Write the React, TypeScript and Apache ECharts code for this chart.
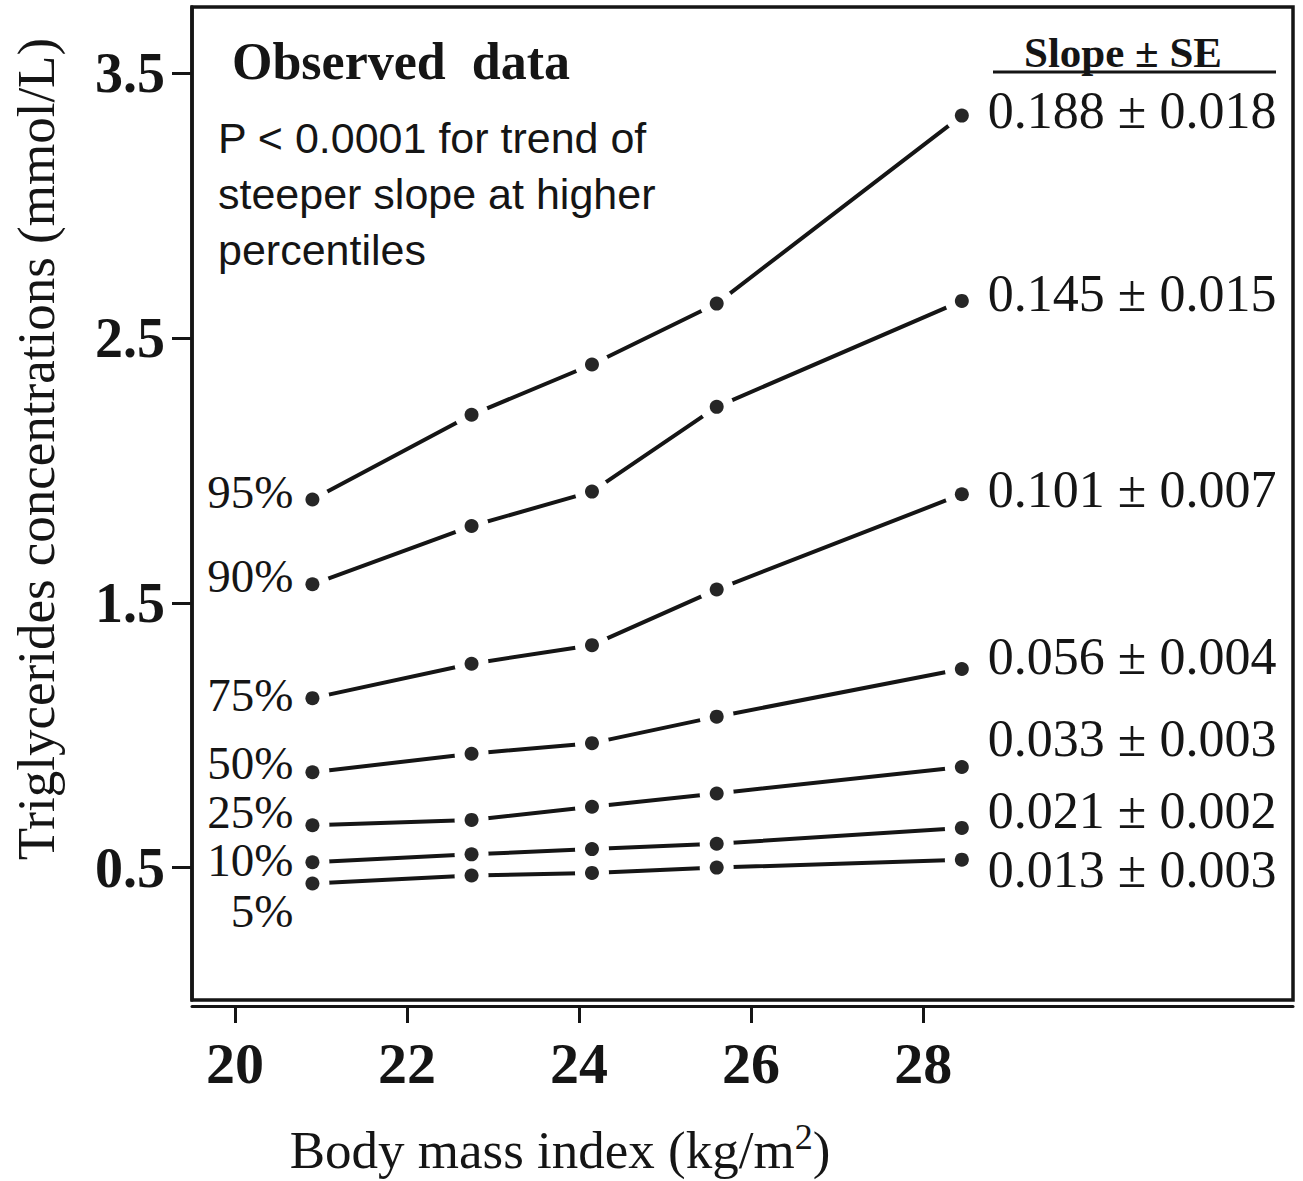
import React, { useEffect, useRef } from "react";
import * as echarts from "echarts";

// ---- data ----
const bmi = [20.9, 22.75, 24.15, 25.6, 28.45];
const percentiles = ["95%", "90%", "75%", "50%", "25%", "10%", "5%"];
const p95 = [1.89, 2.21, 2.4, 2.63, 3.34];
const p90 = [1.57, 1.79, 1.92, 2.24, 2.64];
const p75 = [1.14, 1.27, 1.34, 1.55, 1.91];
const p50 = [0.86, 0.93, 0.97, 1.07, 1.25];
const p25 = [0.66, 0.68, 0.73, 0.78, 0.88];
const p10 = [0.52, 0.55, 0.57, 0.59, 0.65];
const p5 = [0.44, 0.47, 0.48, 0.5, 0.53];
const slopes = [
  "0.188 ± 0.018",
  "0.145 ± 0.015",
  "0.101 ± 0.007",
  "0.056 ± 0.004",
  "0.033 ± 0.003",
  "0.021 ± 0.002",
  "0.013 ± 0.003",
];
const xTicks = [20, 22, 24, 26, 28];
const yTicks = [0.5, 1.5, 2.5, 3.5];

const SERIF = "'Liberation Serif', 'Times New Roman', serif";
const SANS = "'Liberation Sans', Arial, sans-serif";
const INK = "#151515";
const DOT = "#262626";

const pctOffsets = [-8, -8, -3, -9, -13, -2, 28];
const slopeOffsets = [-5, -7, -5, -13, -28, -17, 10];

function buildOption() {
  const all = [p95, p90, p75, p50, p25, p10, p5];
  const last = bmi.length - 1;

  const lineSeries = all.map((vals, i) => ({
    type: "line",
    name: percentiles[i],
    data: bmi.map((x, j) => [x, vals[j]]),
    symbol: "none",
    lineStyle: { color: INK, width: 4 },
    z: 2,
    silent: true,
  }));

  const maskData: number[][] = [];
  all.forEach((vals) => bmi.forEach((x, j) => maskData.push([x, vals[j]])));
  const maskSeries = {
    type: "scatter",
    data: maskData,
    symbolSize: 34,
    itemStyle: { color: "#ffffff", opacity: 1 },
    z: 3,
    silent: true,
  };

  const labelBase = {
    fontFamily: SERIF,
    color: INK,
    opacity: 1,
    lineHeight: 40,
  };

  const dotSeries = all.map((vals, i) => ({
    type: "scatter",
    name: percentiles[i] + " dots",
    symbolSize: 14,
    itemStyle: { color: DOT, opacity: 1 },
    z: 4,
    silent: true,
    label: { show: false, color: INK },
    data: bmi.map((x, j) => {
      const item: any = { value: [x, vals[j]] };
      if (j === 0) {
        item.label = {
          show: true,
          position: "left",
          distance: 12,
          offset: [0, pctOffsets[i]],
          formatter: percentiles[i],
          fontSize: 47,
          ...labelBase,
        };
      } else if (j === last) {
        item.label = {
          show: true,
          position: "right",
          distance: 19,
          offset: [0, slopeOffsets[i]],
          formatter: slopes[i],
          fontSize: 52,
          ...labelBase,
        };
      }
      return item;
    }),
  }));

  return {
    animation: false,
    backgroundColor: "#ffffff",
    grid: {
      left: 192,
      right: 10,
      top: 7,
      bottom: 181,
      show: true,
      borderColor: INK,
      borderWidth: 3.5,
      backgroundColor: "transparent",
    },
    xAxis: {
      type: "value",
      min: 19.5,
      max: 32.3,
      offset: 6,
      axisLine: { show: true, onZero: false, lineStyle: { color: INK, width: 3 } },
      axisTick: { show: true, length: 17, customValues: xTicks, lineStyle: { color: INK, width: 3 } },
      axisLabel: {
        customValues: xTicks,
        fontFamily: SERIF,
        fontWeight: "bold",
        fontSize: 58,
        color: INK,
        margin: 28,
      },
      splitLine: { show: false },
    },
    yAxis: {
      type: "value",
      min: 0,
      max: 3.75,
      axisLine: { show: true, lineStyle: { color: INK, width: 3.5 } },
      axisTick: { show: true, length: 20, customValues: yTicks, lineStyle: { color: INK, width: 3 } },
      axisLabel: {
        customValues: yTicks,
        formatter: (v: number) => v.toFixed(1),
        fontFamily: SERIF,
        fontWeight: "bold",
        fontSize: 56,
        color: INK,
        margin: 27,
      },
      splitLine: { show: false },
    },
    graphic: [
      {
        type: "text",
        x: 232,
        y: 61,
        z: 10,
        style: {
          text: "Observed  data",
          fontFamily: SERIF,
          fontWeight: "bold",
          fontSize: 52,
          fill: INK,
          align: "left",
          verticalAlign: "middle",
          textAlign: "left",
          textVerticalAlign: "middle",
        },
      },
      ...["P < 0.0001 for trend of", "steeper slope at higher", "percentiles"].map((t, k) => ({
        type: "text",
        x: 218,
        y: 138 + k * 56,
        z: 10,
        style: {
          text: t,
          fontFamily: SANS,
          fontSize: 43,
          fill: INK,
          align: "left",
          verticalAlign: "middle",
          textAlign: "left",
          textVerticalAlign: "middle",
        },
      })),
      {
        type: "text",
        x: 1123,
        y: 52,
        z: 10,
        style: {
          text: "Slope ± SE",
          fontFamily: SERIF,
          fontWeight: "bold",
          fontSize: 43,
          fill: INK,
          align: "center",
          verticalAlign: "middle",
          textAlign: "center",
          textVerticalAlign: "middle",
        },
      },
      {
        type: "line",
        z: 10,
        shape: { x1: 993, y1: 72, x2: 1276, y2: 72 },
        style: { stroke: INK, lineWidth: 3 },
      },
      {
        type: "text",
        x: 36,
        y: 449,
        rotation: Math.PI / 2,
        z: 10,
        style: {
          text: "Triglycerides concentrations (mmol/L)",
          fontFamily: SERIF,
          fontSize: 53,
          fill: INK,
          align: "center",
          verticalAlign: "middle",
          textAlign: "center",
          textVerticalAlign: "middle",
        },
      },
      {
        type: "text",
        x: 560,
        y: 1150,
        z: 10,
        style: {
          text: "{n|Body mass index (kg/m}{s|2}{n|)}",
          fontFamily: SERIF,
          fontSize: 53,
          fill: INK,
          align: "center",
          verticalAlign: "middle",
          textAlign: "center",
          textVerticalAlign: "middle",
          rich: {
            n: { fontFamily: SERIF, fontSize: 53, fill: INK, color: INK, lineHeight: 62 },
            s: { fontFamily: SERIF, fontSize: 36, fill: INK, color: INK, verticalAlign: "top", lineHeight: 62 },
          },
        },
      },
    ],
    series: [...lineSeries, maskSeries, ...dotSeries],
  };
}

export default function App() {
  const ref = useRef<HTMLDivElement>(null);
  useEffect(() => {
    if (!ref.current) return;
    const chart = echarts.init(ref.current, undefined, { renderer: "svg" });
    chart.setOption(buildOption() as any);
    return () => chart.dispose();
  }, []);
  return (
    <div
      ref={ref}
      style={{ position: "fixed", left: 0, top: 0, width: 1303, height: 1181, background: "#fff" }}
    />
  );
}
